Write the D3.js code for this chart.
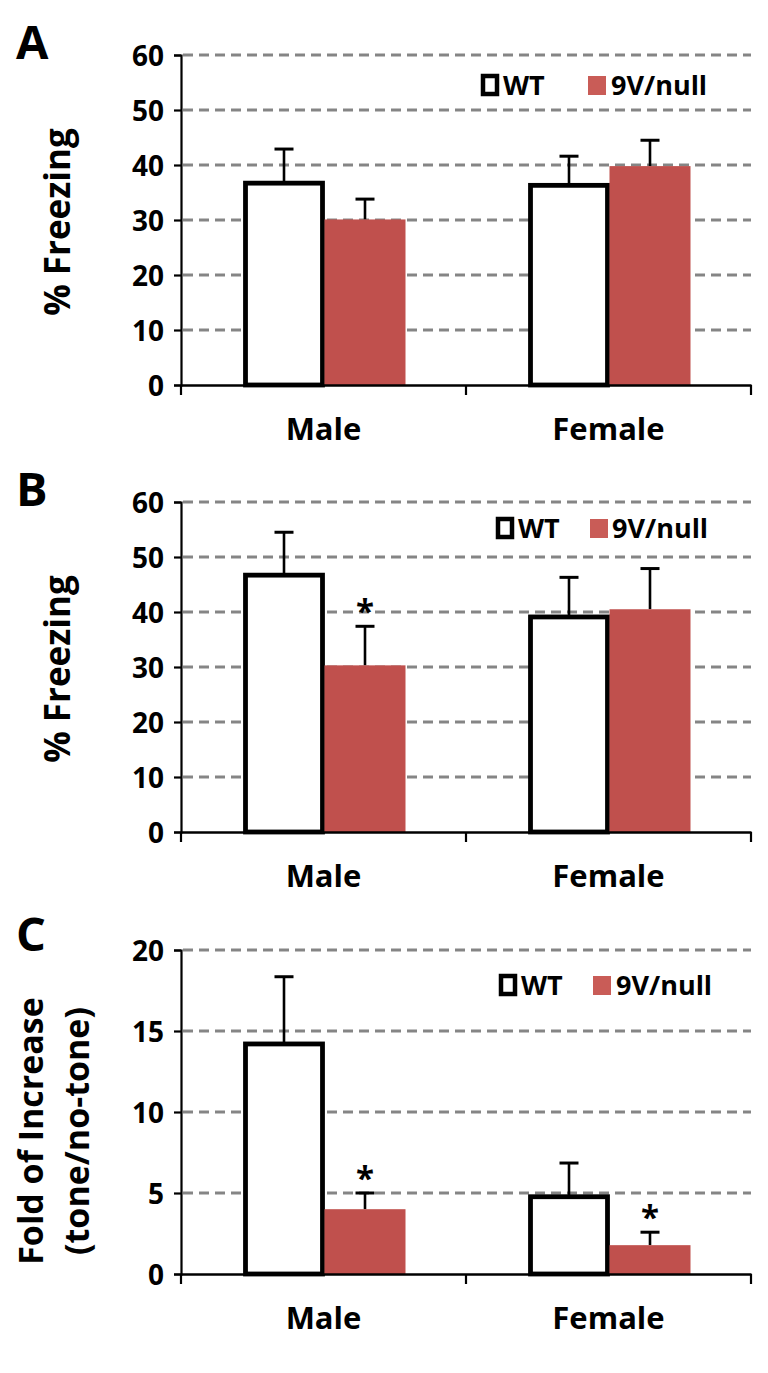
<!DOCTYPE html>
<html>
<head>
<meta charset="utf-8">
<script src="https://cdn.jsdelivr.net/npm/d3@7"></script>
<style>
  html, body { margin: 0; padding: 0; background: #fff; }
  svg { display: block; }
  text { font-family: "Open Sans", "DejaVu Sans", sans-serif; font-weight: 700; fill: #000; }
</style>
</head>
<body>
<svg id="chart" width="768" height="1373"></svg>
<script>
// ---------- DATA ----------
const categories = ["Male", "Female"];
const seriesNames = ["WT", "9V/null"];

// Panel A: % Freezing
const aWT = [36.7, 36.3];
const aWTerr = [6.2, 5.3];
const aKO = [30.1, 39.8];
const aKOerr = [3.7, 4.7];
const aTicks = [0, 10, 20, 30, 40, 50, 60];
const aStars = [[false, false], [false, false]];

// Panel B: % Freezing
const bWT = [46.7, 39.1];
const bWTerr = [7.8, 7.2];
const bKO = [30.3, 40.5];
const bKOerr = [7.1, 7.4];
const bTicks = [0, 10, 20, 30, 40, 50, 60];
const bStars = [[false, false], [true, false]]; // [WT stars], [9V stars] per category

// Panel C: Fold of increase
const cWT = [14.2, 4.77];
const cWTerr = [4.15, 2.08];
const cKO = [4.0, 1.78];
const cKOerr = [1.0, 0.8];
const cTicks = [0, 5, 10, 15, 20];
const cStars = [[false, false], [true, true]];

// ---------- LAYOUT ----------
const svg = d3.select("#chart");
const RED = "#c0504d";
const RED_LEG = "#c95c57";
const GRID = "#858585";

const panels = [
  { letter: "A", top: 55, bottom: 385, max: 60, ticks: aTicks, wt: aWT, wtErr: aWTerr, ko: aKO, koErr: aKOerr, stars: aStars,
    title: ["% Freezing"], titleSize: 35, titleX: [70], titleDy: 2, legDy: 30,
    leg: { wtBox: 483, wtText: 503, koBox: 588, koText: 611 }, letterDy: 4 },
  { letter: "B", top: 502, bottom: 832, max: 60, ticks: bTicks, wt: bWT, wtErr: bWTerr, ko: bKO, koErr: bKOerr, stars: bStars,
    title: ["% Freezing"], titleSize: 35, titleX: [70], titleDy: 2, legDy: 26,
    leg: { wtBox: 498, wtText: 518, koBox: 590, koText: 612 }, letterDy: 4 },
  { letter: "C", top: 950, bottom: 1274, max: 20, ticks: cTicks, wt: cWT, wtErr: cWTerr, ko: cKO, koErr: cKOerr, stars: cStars,
    title: ["Fold of Increase", "(tone/no-tone)"], titleSize: 34, titleX: [43, 89], titleDy: 19, legDy: 35,
    leg: { wtBox: 501, wtText: 521, koBox: 593, koText: 616 }, letterDy: 1 }
];

const xLeft = 181, xRight = 751;
const x0 = d3.scaleBand().domain(categories).range([xLeft, xRight]).padding(0);
const groupW = 162;
const x1 = d3.scaleBand().domain(seriesNames).range([0, groupW]).padding(0);
const groupOffset = (x0.bandwidth() - groupW) / 2 + 1;

panels.forEach(p => {
  const y = d3.scaleLinear().domain([0, p.max]).range([p.bottom, p.top]);
  const g = svg.append("g");

  // panel letter
  g.append("text").attr("x", 16).attr("y", p.top + p.letterDy)
    .attr("font-size", 47).text(p.letter);

  // gridlines (dashed)
  g.append("g").selectAll("line")
    .data(p.ticks.filter(t => t > 0))
    .join("line")
    .attr("x1", xLeft + 2).attr("x2", xRight)
    .attr("y1", d => y(d)).attr("y2", d => y(d))
    .attr("stroke", GRID).attr("stroke-width", 3)
    .attr("stroke-dasharray", "10,6");

  // y axis
  const yAxis = d3.axisLeft(y).tickValues(p.ticks).tickSize(7).tickPadding(10).tickFormat(d3.format("d"));
  const ya = g.append("g").attr("transform", `translate(${xLeft},0)`).call(yAxis);
  ya.select(".domain").attr("stroke", "#000").attr("stroke-width", 2.2);
  ya.selectAll(".tick line").attr("stroke", "#000").attr("stroke-width", 2.2);
  ya.selectAll(".tick text").attr("font-size", 28).attr("font-family", "Open Sans").attr("font-weight", 700)
    .attr("fill", "#000").attr("dy", "0.36em");

  const seriesData = [
    { name: "WT", vals: p.wt, errs: p.wtErr, stars: p.stars[0] },
    { name: "9V/null", vals: p.ko, errs: p.koErr, stars: p.stars[1] }
  ];

  // error bars (upper only)
  seriesData.forEach(s => {
    const eg = g.append("g");
    categories.forEach((c, i) => {
      const cx = x0(c) + groupOffset + x1(s.name) + x1.bandwidth() / 2;
      const top = y(s.vals[i] + s.errs[i]);
      eg.append("line").attr("x1", cx).attr("x2", cx)
        .attr("y1", y(s.vals[i])).attr("y2", top)
        .attr("stroke", "#000").attr("stroke-width", 2.6);
      eg.append("line").attr("x1", cx - 9.5).attr("x2", cx + 9.5)
        .attr("y1", top).attr("y2", top)
        .attr("stroke", "#000").attr("stroke-width", 3);
      if (s.stars[i]) {
        eg.append("text").attr("x", cx).attr("y", top - 3)
          .attr("text-anchor", "middle").attr("font-size", 33).text("*");
      }
    });
  });

  // WT bars
  g.append("g").selectAll("rect")
    .data(categories.map((c, i) => ({ c, v: p.wt[i] })))
    .join("rect")
    .attr("x", d => x0(d.c) + groupOffset + x1("WT") + 2)
    .attr("width", x1.bandwidth() - 4)
    .attr("y", d => y(d.v))
    .attr("height", d => p.bottom - y(d.v))
    .attr("fill", "#fff").attr("stroke", "#000").attr("stroke-width", 4.8);

  // 9V/null bars
  g.append("g").selectAll("rect")
    .data(categories.map((c, i) => ({ c, v: p.ko[i] })))
    .join("rect")
    .attr("x", d => x0(d.c) + groupOffset + x1("9V/null"))
    .attr("width", x1.bandwidth())
    .attr("y", d => y(d.v))
    .attr("height", d => p.bottom - y(d.v))
    .attr("fill", RED);

  // x axis
  const xAxis = d3.axisBottom(x0).tickValues([]).tickSizeOuter(0);
  const xa = g.append("g").attr("transform", `translate(0,${p.bottom})`).call(xAxis);
  xa.select(".domain").attr("stroke", "#000").attr("stroke-width", 2.4);
  const bounds = [xLeft, x0("Female"), xRight];
  g.append("g").selectAll("line").data(bounds).join("line")
    .attr("x1", d => d).attr("x2", d => d)
    .attr("y1", p.bottom).attr("y2", p.bottom + 10)
    .attr("stroke", "#000").attr("stroke-width", 2.2);
  g.append("g").selectAll("text").data(categories).join("text")
    .attr("x", d => x0(d) + x0.bandwidth() / 2)
    .attr("y", p.bottom + 55)
    .attr("text-anchor", "middle").attr("font-size", 31)
    .text(d => d);

  // y title
  const midY = (p.top + p.bottom) / 2 + p.titleDy;
  p.title.forEach((t, k) => {
    g.append("text")
      .attr("transform", `translate(${p.titleX[k]},${midY}) rotate(-90)`)
      .attr("text-anchor", "middle").attr("font-size", p.titleSize)
      .text(t);
  });

  // legend
  const ly = p.top + p.legDy;
  g.append("rect").attr("x", p.leg.wtBox).attr("y", ly - 9).attr("width", 14).attr("height", 18)
    .attr("fill", "#fff").attr("stroke", "#000").attr("stroke-width", 4.5);
  g.append("text").attr("x", p.leg.wtText).attr("y", ly + 10).attr("font-size", 27).text(seriesNames[0]);
  g.append("rect").attr("x", p.leg.koBox).attr("y", ly - 9).attr("width", 18).attr("height", 19)
    .attr("fill", RED_LEG);
  g.append("text").attr("x", p.leg.koText).attr("y", ly + 10).attr("font-size", 27).text(seriesNames[1]);
});
</script>
</body>
</html>
